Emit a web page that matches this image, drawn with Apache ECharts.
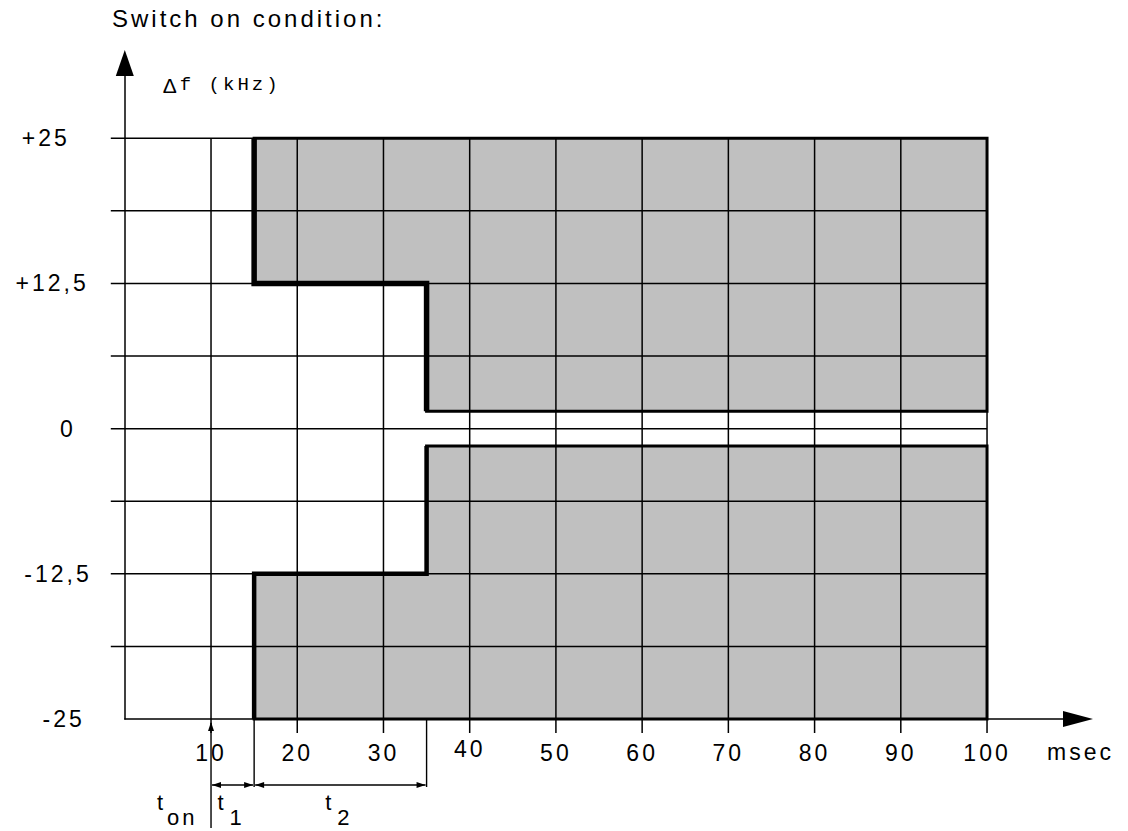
<!DOCTYPE html>
<html>
<head>
<meta charset="utf-8">
<script src="https://cdn.jsdelivr.net/npm/echarts@6/dist/echarts.min.js"></script>
<style>
html, body { margin: 0; padding: 0; background: #fff; }
#chart { width: 1128px; height: 831px; }
#chart text { letter-spacing: 3px; }
</style>
</head>
<body>
<div id="chart"></div>
<script>
// ---- data ----
const titleText = 'Switch on condition:';
const xTickValues = [10, 20, 30, 40, 50, 60, 70, 80, 90, 100];
const yGridLevels = [-18.75, -12.5, -6.25, 0, 6.25, 12.5, 18.75, 25];
const yTickValues = [25, 12.5, 0, -12.5, -25];
const yTickTexts = ['+25', '+12,5', '0', '-12,5', '-25'];
const upperRegion = [[15, 25], [100, 25], [100, 1.5], [35, 1.5], [35, 12.5], [15, 12.5]];
const lowerRegion = [[15, -25], [100, -25], [100, -1.5], [35, -1.5], [35, -12.5], [15, -12.5]];
const upperStep = [[15, 25], [15, 12.5], [35, 12.5], [35, 1.5]];
const lowerStep = [[15, -25], [15, -12.5], [35, -12.5], [35, -1.5]];
const tOn = 10;
const spanStarts = [10, 15];
const spanEnds = [15, 35];
const spanSubs = ['1', '2'];
const xUnit = 'msec';
const yUnitSymbol = 'Δ';
const yUnitText = 'f (kHz)';

// ---- styles ----
const FONT = 'Liberation Sans';
const yLabelPad = { '25': 22, '12.5': 3, '0': 16, '-12.5': 0, '-25': 7 };

function renderDrawing(params, api) {
  const P = p => api.coord(p);
  const children = [];
  const ln = (a, b, w) => ({ type: 'line', shape: { x1: a[0], y1: a[1], x2: b[0], y2: b[1] },
    style: { stroke: '#000', lineWidth: w, lineCap: 'butt' } });
  const tri = (pts) => ({ type: 'polygon', shape: { points: pts }, style: { fill: '#000' } });
  const txt = (s, x, y, align) => ({ type: 'text', style: { text: s, x: x, y: y,
    font: '22px "' + FONT + '"', fill: '#000', textAlign: align, textVerticalAlign: 'middle' } });

  // fills
  [upperRegion, lowerRegion].forEach(reg => {
    children.push({ type: 'polygon', shape: { points: reg.map(P) }, style: { fill: '#c0c0c0' } });
  });

  const axisY = P([0, -25])[1];
  // vertical grid lines + ticks
  xTickValues.forEach(x => {
    const top = P([x, 25]);
    const bot = P([x, -25]);
    children.push(ln(top, [bot[0], bot[1] + 14], 1.5));
  });
  // horizontal grid lines (with left tick)
  yGridLevels.forEach(y => {
    const l = P([0, y]);
    const r = P([100, y]);
    children.push(ln([l[0] - 14, l[1]], r, 1.5));
  });

  // region outlines
  [upperRegion, lowerRegion].forEach(reg => {
    children.push({ type: 'polygon', shape: { points: reg.map(P) },
      style: { fill: 'none', stroke: '#000', lineWidth: 3, lineJoin: 'miter' } });
  });
  children.push({ type: 'polyline', shape: { points: upperStep.map(P) },
    style: { fill: 'none', stroke: '#000', lineWidth: 5.5, lineJoin: 'miter' } });
  children.push({ type: 'polyline', shape: { points: lowerStep.map(P) },
    style: { fill: 'none', stroke: '#000', lineWidth: 4.5, lineJoin: 'miter' } });

  // t_on marker line with arrow
  const xOn = P([tOn, -25])[0];
  children.push(ln([xOn, axisY + 4], [xOn, axisY + 109], 1.4));
  children.push(tri([[xOn, axisY + 3], [xOn - 3, axisY + 12], [xOn + 3, axisY + 12]]));

  // extension lines and dimension arrows
  const dimY = axisY + 66;
  spanEnds.forEach(x => {
    const px = P([x, -25])[0];
    children.push(ln([px, axisY], [px, axisY + 68], 1.4));
  });
  spanStarts.forEach((s, i) => {
    const a = P([s, -25])[0] + 1;
    const b = P([spanEnds[i], -25])[0] - 1;
    children.push(ln([a, dimY], [b, dimY], 1.3));
    children.push(tri([[a, dimY], [a + 9, dimY - 3], [a + 9, dimY + 3]]));
    children.push(tri([[b, dimY], [b - 9, dimY - 3], [b - 9, dimY + 3]]));
    const mid = (a + b) / 2;
    children.push(txt('t', mid - 15, axisY + 83, 'left'));
    children.push(txt(spanSubs[i], mid - 3, axisY + 98, 'left'));
  });
  // t_on label
  children.push(txt('t', xOn - 45, axisY + 83, 'right'));
  children.push(txt('on', xOn - 44, axisY + 98, 'left'));

  return { type: 'group', children };
}

const yRich = {};
yTickValues.forEach((v, i) => {
  yRich['y' + i] = { fontFamily: FONT, fontSize: 23, color: '#000', padding: [0, yLabelPad[String(v)], 0, 0] };
});

const chart = echarts.init(document.getElementById('chart'), null, { renderer: 'svg' });
chart.setOption({
  animation: false,
  backgroundColor: '#fff',
  title: {
    text: titleText, left: 112, top: 6, padding: 0,
    textStyle: { fontFamily: FONT, fontSize: 24, fontWeight: 'normal', color: '#000' }
  },
  grid: { left: 124.8, right: 50, top: 63, bottom: 112, containLabel: false },
  xAxis: {
    type: 'value', min: 0, max: 110.55, interval: 10,
    name: xUnit, nameLocation: 'end', nameGap: -31,
    nameTextStyle: { fontFamily: FONT, fontSize: 23, color: '#000', align: 'left', verticalAlign: 'top', padding: [21, 0, 0, 0] },
    axisLine: { onZero: false, symbol: ['none', 'triangle'], symbolSize: [16, 30], lineStyle: { color: '#000', width: 1.5 } },
    axisTick: { show: false },
    splitLine: { show: false },
    axisLabel: {
      margin: 18,
      formatter: v => {
        const t = xTickValues.find(x => Math.abs(x - v) < 1e-6);
        if (t === undefined) return '';
        return t === 40 ? '{u|' + t + '}' : '{n|' + t + '}';
      },
      rich: {
        n: { fontFamily: FONT, fontSize: 23, color: '#000', padding: [4, 0, 0, 0] },
        u: { fontFamily: FONT, fontSize: 23, color: '#000', padding: [0, 0, 0, 0] }
      }
    }
  },
  yAxis: {
    type: 'value', min: -25, max: 31.48, interval: 6.25,
    name: '{d|' + yUnitSymbol + '}{m|' + yUnitText + '}', nameLocation: 'end', nameGap: -22,
    nameTextStyle: { align: 'left', verticalAlign: 'middle', padding: [0, 0, 0, 38],
      rich: {
        d: { fontFamily: FONT, fontSize: 21, color: '#000' },
        m: { fontFamily: 'Liberation Mono', fontSize: 19, color: '#000', padding: [0, 0, 0, 3] }
      } },
    axisLine: { onZero: false, symbol: ['none', 'triangle'], symbolSize: [18, 26], lineStyle: { color: '#000', width: 1.5 } },
    axisTick: { show: false },
    splitLine: { show: false },
    axisLabel: {
      margin: 33,
      formatter: v => {
        const i = yTickValues.findIndex(y => Math.abs(y - v) < 1e-6);
        return i < 0 ? '' : '{y' + i + '|' + yTickTexts[i] + '}';
      },
      rich: yRich
    }
  },
  series: [{
    type: 'custom',
    coordinateSystem: 'cartesian2d',
    renderItem: renderDrawing,
    data: [[0, 0]],
    silent: true,
    z: 3
  }]
});
</script>
</body>
</html>
